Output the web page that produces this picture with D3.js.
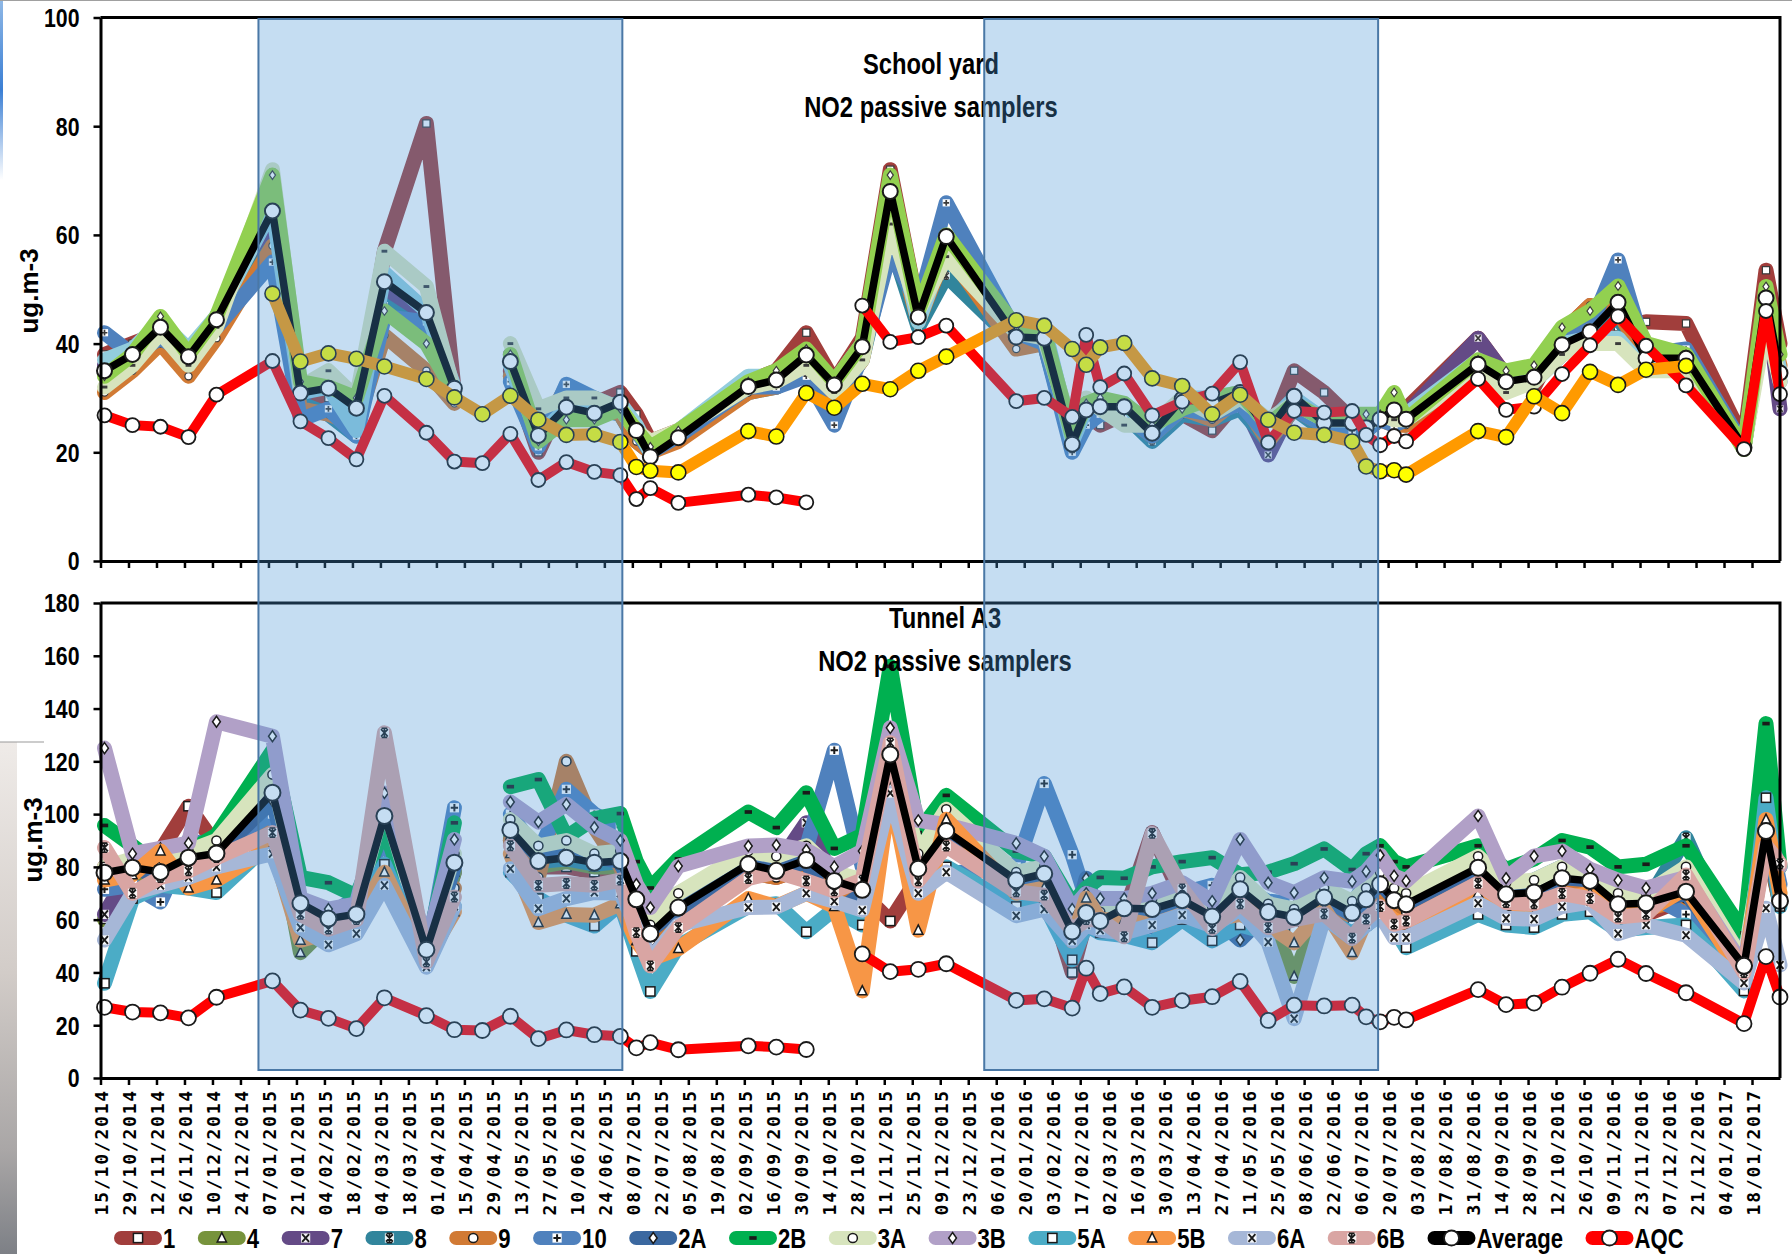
<!DOCTYPE html>
<html>
<head>
<meta charset="utf-8">
<title>NO2 passive samplers</title>
<script src="https://cdn.jsdelivr.net/npm/d3@7/dist/d3.min.js"></script>
<style>
  html, body { margin: 0; padding: 0; background: #ffffff; }
  svg { display: block; }
</style>
</head>
<body>
<svg id="chart" width="1792" height="1254"></svg>
<script>
// ---------------------------------------------------------------------------
// Sampling dates (one value per exposure period)
const sampleDates = [
  "2014-10-17","2014-10-31","2014-11-14","2014-11-28","2014-12-12","2015-01-09",
  "2015-01-23","2015-02-06","2015-02-20","2015-03-06","2015-03-27","2015-04-10",
  "2015-04-24","2015-05-08","2015-05-22","2015-06-05","2015-06-19","2015-07-02",
  "2015-07-10","2015-07-17","2015-07-31","2015-09-04","2015-09-18","2015-10-03",
  "2015-10-17","2015-10-31","2015-11-14","2015-11-28","2015-12-12","2016-01-16",
  "2016-01-30","2016-02-13","2016-02-20","2016-02-27","2016-03-10","2016-03-24",
  "2016-04-08","2016-04-23","2016-05-07","2016-05-21","2016-06-03","2016-06-18",
  "2016-07-02","2016-07-09","2016-07-16","2016-07-23","2016-07-29","2016-09-03",
  "2016-09-17","2016-10-01","2016-10-15","2016-10-29","2016-11-12","2016-11-26",
  "2016-12-16","2017-01-14","2017-01-25","2017-02-01"
];

// Axis tick labels (every two weeks)
const tickLabels = [
  "15/10/2014","29/10/2014","12/11/2014","26/11/2014","10/12/2014","24/12/2014",
  "07/01/2015","21/01/2015","04/02/2015","18/02/2015","04/03/2015","18/03/2015",
  "01/04/2015","15/04/2015","29/04/2015","13/05/2015","27/05/2015","10/06/2015",
  "24/06/2015","08/07/2015","22/07/2015","05/08/2015","19/08/2015","02/09/2015",
  "16/09/2015","30/09/2015","14/10/2015","28/10/2015","11/11/2015","25/11/2015",
  "09/12/2015","23/12/2015","06/01/2016","20/01/2016","03/02/2016","17/02/2016",
  "02/03/2016","16/03/2016","30/03/2016","13/04/2016","27/04/2016","11/05/2016",
  "25/05/2016","08/06/2016","22/06/2016","06/07/2016","20/07/2016","03/08/2016",
  "17/08/2016","31/08/2016","14/09/2016","28/09/2016","12/10/2016","26/10/2016",
  "09/11/2016","23/11/2016","07/12/2016","21/12/2016","04/01/2017","18/01/2017"
];
const axisStart = "2014-10-15";
const axisEnd = "2017-02-01";

// Heating seasons highlighted across both panels
const shadedPeriods = [["2015-01-02", "2015-07-03"], ["2015-12-31", "2016-07-15"]];

const yardTicks = [0, 20, 40, 60, 80, 100];
const tunnelTicks = [0, 20, 40, 60, 80, 100, 120, 140, 160, 180];

// ---------------------------------------------------------------------------
// AQC monitoring station (same series in both panels)
const aqc = [26.8,25,24.7,22.8,30.6,36.8,25.7,22.6,18.7,30.4,23.6,18.3,18,
  23.4,14.9,18.2,16.4,15.8,11.4,13.4,10.7,12.2,11.7,10.8,null,47,40.3,41.2,43.3,
  29.4,30,26.5,41.6,32,34.5,26.8,29.3,30.8,36.6,21.8,27.6,27.3,27.6,23.2,21.3,23,22,
  33.5,27.8,28.4,34.4,39.7,45,39.6,32.3,20.6,46,30.7];

// School yard samplers
const yardAverage = [35,38,43,37.6,44.4,64.4,30.9,31.8,28.1,51.4,45.7,31.8,null,
  36.7,23.1,28.3,27.2,29.2,24,19.2,22.7,32.1,33.3,37.9,32.4,39.4,68,44.9,59.7,
  41.2,41,21.5,27.8,28.4,28.4,23.5,29.8,29,31,24,30.3,25.4,25.4,24.5,26.1,27.8,26.1,
  36.2,33,33.8,39.8,42.2,47.6,37.3,37.3,20.9,48.4,34.6];
const yardReference = [null,null,null,null,null,49.2,36.7,38.2,37.2,35.8,33.5,30.1,27,
  30.4,26,23.2,23.3,21.9,17.3,16.6,16.3,23.9,22.9,30.9,28.2,32.6,31.6,35,37.6,
  44.3,43.3,39,36.1,39.3,40.1,33.6,32.2,27,30.6,26,23.6,23.2,22,17.4,16.5,16.7,15.9,
  23.9,22.8,30.3,27.2,34.8,32.4,35.2,35.9,null,null,null];
const yardMaroon = [38,40,42,36,45,60,30,30,26,57,80.5,31,null,
  35,20,31,29,31,27,22,24,33,35,42,33,41,72,46,58,
  40,40,24,27,25,27,24,27,24,30,23,35,31,26,26,26,28,28,
  41,34,32,42,47,43,44,43.7,22,53.5,40];
const yardPurple = [36,38,43,37,45,62,30,34,28,50,44,31,null,
  38,24,29,27,28,24,20,23,32,33,37,32,39,66,44,58,
  41,41,23,28,28,28,24,29,28,30,19.5,29,25,25,25,27,29,27,
  41,34,33,39,44,47,37,37,21,49,28];
const yardTeal = [35,37,42,36,43,58,29,27,23,47,42,30,null,
  34,22,27,28,27,22,20,23,31,32,35,30,37,59,43,52.5,
  40,40,21,26,27,27,22,27,26,28,22,28,24,25,24,26,26,25,
  35,32,33,38,41,45,36,36,21,47,34];
const yardOrange = [31,35,40,34,41,58,28,27,25,41.5,35,29,null,
  34,23,32,29,27,22,20,22,31,32,35,30,37,63,44,57,
  39,40,22,26,27,27,23,28,26,30,22,28,25,24,24,26,25,25,
  36,33,34,42,47,46,37,36,21,46,36];
const yardBlue = [42,38,41,38,43,55,26,28,23,45,44,31,null,
  33,21,32.5,30,28,24,20,23,32,32,34,25,38,57,47,65.9,
  42,40,20,25,27,27,23,28,27,29,23,28,25,24,24,26,25,26,
  35,32,34,40,43,55.4,38,39,21,46,33];
const yardSky = [37,39,44,39,45,65,31,32,24,53,46,32,null,
  36,23,28,28,29,25,20,24,34,34,37,33,40,66,44,58,
  42,43,22,28,29,29,24,30,30,31,25,30,26,26,25,27,28,27,
  37,34,35,40,41,41,35,36,21,47,35];
const yardPale = [32,36,42,36,43,72,32,35,30,57,50.5,31,null,
  40,28,30,30,28,24,22,24,32,33,36,31,37,62,46,56,
  42,41,24,30,28,25,25,30,27,30,26,29,26,26,25,27,26,26,
  35,31,33,38,40,40,35,35,21,44,33];
const yardGreen = [34,38,45,38,45,71,33,32,30,46,40,31,null,
  38,22,26,26,28,24,21,24,33,35,39,33,40,71,46,60,
  43,42,23,29,30,29,25,28,30,31,25,29,26,27,27,27,31,26,
  37,35,36,43,46,50.6,40,38,20.5,50.5,38];

// Tunnel A3 samplers
const tunnel1 = [80,78,86,103,88,98,63,60,64,98,46,78,null,
  90,80,80,78,80,65,50,62,78,76,80,72,70,59.5,76,90,
  72,75,40,60,58,62,93,68,60,70,60,58,66,60,66,70,65,64,
  76,68,68,72,70,58,62,68,40,90,66];
const tunnel4 = [60,78,76,82,84,104,47.5,58,60,96,44,78,null,
  92,80,82,80,80,66,53,63,80,77,81,73,70,120,78,92,
  73,76,54,61,58,63,63,66,60,70,62,38.5,67,61,66,72,66,64,
  78,68,69,74,73,64,65,69,41,92,66];
const tunnel7 = [62,80,80,84,86,108,66,61,63,100,49,82,null,
  95,83,84,82,83,68,55,65,82,80,96.7,75,72,123,80,94,
  75,78,56,63,60,65,65,68,62,72,63,62,69,63,68,74,68,66,
  80,70,71,76,75,66,67,71,43,94,68];
const tunnel8 = [76,79,78,83,84,100,66,60,62,98,48,81,null,
  93,82,83,81,82,67,54,64,81,78,82,74,71,122,79,93,
  75,77,55,62,59,64,64,67,61,71,63,61,68,63,68,73,67,66,
  80,70,70,76,75,66,66,91,42,94,67];
const tunnel9 = [76,78,80,82,83,100,62,58,60,95,47,72,null,
  90,76,120,95,80,64,52,62,78,76,80,72,68,115,76,92,
  72,74,54,72,58,62,62,65,60,70,60,55,66,58,66,72,66,63,
  78,68,69,74,73,63,64,68,40,92,68];
const tunnel10 = [71.5,73,66.7,90,88,100,68,62,68,92,45,102.4,null,
  100,85,109.4,100,95,76,60,70,84,82,87,124.2,80,110,82,77.4,
  80,111.6,84.6,68,62,66,67,70,73,72,67,66,72,65,75,80,73,68,
  82,72,75,80,78,72,70,62,40,98,73.4];
const tunnel2A = [78,80,76,84,85,105,66,60,62,98,48,80,null,
  95,84,86,84,82,68,56,64,80,78,82,62,70,120,80,92,
  74,77,56,75.7,60,64,57.3,66,62,52.3,63,62,68,62,68,74,68,66,
  80,70,70,76,75,66,66,70,42,94,67];
const tunnel2B = [95.7,88,80,86,92,124,76,74,69,95,47,96.7,null,
  110.4,113.1,91.3,98.3,100.2,82,72,83,100.8,94.9,108.1,87,92,156,93,107.1,
  86,84,66,72,76,75.7,80,82,83.5,77,78,81.2,86.8,79,85,88,82,80,
  88,79,83,90,87.5,80,81,88,55,134.3,80];
const tunnel3A = [80,83,80,86,90,115,68,62,65,105,50,85,null,
  98,88,90,85,86,72,58,70,86,84,88,78,75,125,85,101.8,
  78,80,58,66,63,68,68,72,65,76,66,64,72,67,72,78,72,70,
  84,74,75,80,78,70,70,80,44,96,70];
const tunnel3B = [125,85,87,89,135,129.5,68,64,66,108,50,90.4,null,
  104.6,97,103.7,95,90,73.4,64.6,80.3,87.9,88.3,86.4,80.1,86,132.7,97.6,96,
  88.9,84,64,70,68,68,70,74,67,90.4,74,70.2,75.9,74.5,78.3,84.4,76.6,74.7,
  99.3,75.7,84.1,86,79.1,74.9,72,76,42,92,80];
const tunnel5A = [35.9,68,73,72,70.3,90,55,55,60,81,43,65,null,
  78,68,61.7,57.6,66,48,32.8,50,65,66,55.4,64,58,110,74,80,
  65,66,44.8,58,55,54,51.3,60,52,58,55,56,60,55,58,62,57,49.4,
  62,58,57,62,63,56,57,58,33,106.2,65];
const tunnel5B = [75,77,86,72,75,88,52.2,55,60,78,45,63,null,
  85,58.9,62,61.7,66,52,45,49,68,65,70,65,33,110,56,98,
  70,72,52,68.2,60,60,58,62,60,62,58,51.2,64,47.5,60,64,60,58,
  70,65,62,68,70,64,63,72,38,98,70];
const tunnel6A = [52.3,70,73,76,80,85,57,50.5,54.7,73,42,65,null,
  79.3,64.2,68,70.3,70,58,45,58,64.6,64.8,70,67,63.6,108,70,78,
  61.5,64,52,58,56,55,58,61.8,57.6,64,51.5,22.5,61,53,58,62,53.2,53.2,
  66.2,60.5,60.2,65,66.7,54.7,58,54.1,36,64.3,42.8];
const tunnel6B = [87.3,70,76,78.5,83.5,93,62,56.4,60,130.8,44,68.6,null,
  88,73,73.7,73,75,55.1,42.5,57,75.6,78.1,74.7,70.9,75,127,74.7,87.9,
  70.6,69.3,56,60,60,53.5,92.7,71.6,56.7,66,57,60,62.2,53,60.2,65,58.3,59.5,
  73.8,66.5,66,69.9,68,61,62,76.9,40,88,81.2];
const tunnelAverage = [77.8,79.7,78.1,83.5,85.1,108.1,66.2,60.4,62.1,99.3,48.6,81.6,null,
  94,82.2,83.5,81.6,82.2,67.7,54.7,64.6,81,78.5,82.6,74.7,71.3,122.6,79.3,93.6,
  74.9,77.4,55.5,62.5,59.5,64.3,64,67.4,61.2,71.5,62.9,61,68.4,62.6,67.7,73.4,67.4,65.8,
  79.7,69.6,70.3,75.7,74.7,65.8,66.2,70.6,42.5,93.6,67.1];

// Legend / series styling
const samplerNames   = ["1","4","7","8","9","10","2A","2B","3A","3B","5A","5B","6A","6B"];
const samplerColors  = ["#a13e3c","#77933c","#644a86","#31859c","#d17a34","#4f81bd","#3b68a0",
                        "#00b050","#d7e4bd","#b1a0c7","#4bacc6","#f79646","#a6b7d7","#d9a5a3"];
const samplerMarkers = ["square","triangle","cross","star","circle","plus","diamond",
                        "dash","circle","diamond","square","triangle","cross","star"];
const tunnelSeries = [tunnel1,tunnel4,tunnel7,tunnel8,tunnel9,tunnel10,tunnel2A,
                      tunnel2B,tunnel3A,tunnel3B,tunnel5A,tunnel5B,tunnel6A,tunnel6B];

const yardSeries  = [yardMaroon, yardPurple, yardTeal, yardOrange, yardBlue, yardSky, yardPale, yardGreen];
const yardColors  = ["#a13e3c","#644a86","#31859c","#d17a34","#4f81bd","#93cddd","#d7e4bd","#92d050"];
const yardMarkers = ["square","cross","star","circle","plus","none","dash","diamond"];

// ---------------------------------------------------------------------------
// Condensed bold text: a regular sans face squeezed horizontally
const SANS = "'Liberation Sans', Arial, sans-serif";
const SQUEEZE = 0.82;
function narrowText(parent, tx, ty, str, size, anchor, dy) {
  return parent.append("text")
    .attr("transform", `translate(${tx},${ty}) scale(${SQUEEZE},1)`)
    .attr("text-anchor", anchor || "start").attr("dy", dy || 0)
    .attr("font-family", SANS).attr("font-weight", "bold")
    .attr("font-size", size).attr("fill", "#000").text(str);
}

const parseISO = d3.utcParse("%Y-%m-%d");
const parseDMY = d3.utcParse("%d/%m/%Y");
const dates = sampleDates.map(parseISO);
const tickDates = tickLabels.map(parseDMY);

const svg = d3.select("#chart");
const left = 100.5, right = 1780;

const x = d3.scaleUtc().domain([parseISO(axisStart), parseISO(axisEnd)]).range([left, right]);
const yTop = d3.scaleLinear().domain([0, 100]).range([561, 17.5]);
const yBot = d3.scaleLinear().domain([0, 180]).range([1078, 603]);

// soft decorations on the page edge
const defs = svg.append("defs");
const g1 = defs.append("linearGradient").attr("id", "edgeGrey").attr("x1",0).attr("y1",0).attr("x2",0).attr("y2",1);
g1.append("stop").attr("offset","0").attr("stop-color","#efebe8");
g1.append("stop").attr("offset","0.45").attr("stop-color","#d2ccc8");
g1.append("stop").attr("offset","0.8").attr("stop-color","#a9a6a6");
g1.append("stop").attr("offset","1").attr("stop-color","#7d8086");
const g2 = defs.append("linearGradient").attr("id", "edgeBlue").attr("x1",0).attr("y1",0).attr("x2",0).attr("y2",1);
g2.append("stop").attr("offset","0").attr("stop-color","#8fb8e6");
g2.append("stop").attr("offset","0.5").attr("stop-color","#3b7fd4");
g2.append("stop").attr("offset","1").attr("stop-color","#ffffff");
svg.append("rect").attr("x",0).attr("y",742).attr("width",17).attr("height",512).attr("fill","url(#edgeGrey)");
svg.append("line").attr("x1",0).attr("x2",44).attr("y1",742).attr("y2",742).attr("stroke","#9a9a9a").attr("stroke-width",1.2);
svg.append("rect").attr("x",0).attr("y",0).attr("width",3).attr("height",180).attr("fill","url(#edgeBlue)");
svg.append("line").attr("x1",0).attr("x2",1792).attr("y1",0.5).attr("y2",0.5).attr("stroke","#a0a0a0").attr("stroke-width",1);

// ---------------------------------------------------------------------------
function drawMarker(g, type, cx, cy, r, fill, stroke, sw) {
  if (type === "none") return;
  const k = r;
  if (type === "circle") {
    g.append("circle").attr("cx",cx).attr("cy",cy).attr("r",k)
      .attr("fill",fill).attr("stroke",stroke).attr("stroke-width",sw);
  } else if (type === "square") {
    g.append("rect").attr("x",cx-k).attr("y",cy-k).attr("width",2*k).attr("height",2*k)
      .attr("fill",fill).attr("stroke",stroke).attr("stroke-width",sw);
  } else if (type === "triangle") {
    g.append("path").attr("d",`M${cx},${cy-k*1.15}L${cx+k},${cy+k*0.85}L${cx-k},${cy+k*0.85}Z`)
      .attr("fill",fill).attr("stroke",stroke).attr("stroke-width",sw);
  } else if (type === "diamond") {
    g.append("path").attr("d",`M${cx},${cy-k*1.2}L${cx+k*0.85},${cy}L${cx},${cy+k*1.2}L${cx-k*0.85},${cy}Z`)
      .attr("fill",fill).attr("stroke",stroke).attr("stroke-width",sw);
  } else if (type === "cross") {
    g.append("rect").attr("x",cx-k).attr("y",cy-k).attr("width",2*k).attr("height",2*k).attr("fill",fill).attr("opacity",0.9);
    g.append("path").attr("d",`M${cx-k*0.75},${cy-k*0.85}L${cx+k*0.75},${cy+k*0.85}M${cx+k*0.75},${cy-k*0.85}L${cx-k*0.75},${cy+k*0.85}`)
      .attr("stroke",stroke).attr("stroke-width",sw+0.4).attr("fill","none");
  } else if (type === "star") {
    g.append("rect").attr("x",cx-k).attr("y",cy-k).attr("width",2*k).attr("height",2*k).attr("fill",fill).attr("opacity",0.9);
    g.append("path").attr("d",`M${cx-k*0.75},${cy-k*0.8}L${cx+k*0.75},${cy+k*0.8}M${cx+k*0.75},${cy-k*0.8}L${cx-k*0.75},${cy+k*0.8}M${cx},${cy-k}L${cx},${cy+k}M${cx-k*0.6},${cy-k}L${cx+k*0.6},${cy-k}M${cx-k*0.6},${cy+k}L${cx+k*0.6},${cy+k}`)
      .attr("stroke",stroke).attr("stroke-width",sw+0.2).attr("fill","none");
  } else if (type === "plus") {
    g.append("rect").attr("x",cx-k).attr("y",cy-k).attr("width",2*k).attr("height",2*k).attr("fill",fill);
    g.append("path").attr("d",`M${cx-k*0.8},${cy}L${cx+k*0.8},${cy}M${cx},${cy-k*0.8}L${cx},${cy+k*0.8}`)
      .attr("stroke",stroke).attr("stroke-width",sw+0.5).attr("fill","none");
  } else if (type === "dash") {
    g.append("rect").attr("x",cx-k*0.8).attr("y",cy-k*0.4).attr("width",k*1.6).attr("height",k*0.8)
      .attr("fill",stroke);
  }
}

function drawSeries(g, y, vals, color, width, marker, mr, mFill, mStroke, mSw) {
  const pts = dates.map((d, i) => ({ d, v: vals[i] }));
  const line = d3.line().defined(p => p.v != null).x(p => x(p.d)).y(p => y(p.v));
  g.append("path").attr("d", line(pts)).attr("fill", "none")
    .attr("stroke", color).attr("stroke-width", width)
    .attr("stroke-linejoin", "round").attr("stroke-linecap", "round");
  const mg = g.append("g");
  pts.filter(p => p.v != null).forEach(p => drawMarker(mg, marker, x(p.d), y(p.v), mr, mFill, mStroke, mSw));
}

// ---------------------------------------------------------------------------
// Panel frames and axes
function styleAxis(sel) {
  sel.select(".domain").attr("stroke", "#000").attr("stroke-width", 3);
  sel.selectAll(".tick line").attr("stroke", "#000").attr("stroke-width", 2.5);
}

function panelAxes(y, ticks, showDates) {
  const top = y.range()[1], bottom = y.range()[0];
  svg.append("path").attr("d", `M${left},${top}H${right}V${bottom}`)
    .attr("fill", "none").attr("stroke", "#000").attr("stroke-width", 3);

  const ya = svg.append("g").attr("transform", `translate(${left},0)`)
    .call(d3.axisLeft(y).tickValues(ticks).tickSize(7).tickSizeOuter(0).tickFormat(""));
  styleAxis(ya);
  ticks.forEach(v => narrowText(svg, left - 21, y(v), String(v), 26, "end", "0.36em"));

  const xa = svg.append("g").attr("transform", `translate(0,${bottom})`)
    .call(d3.axisBottom(x).tickValues(tickDates).tickSize(7).tickSizeOuter(0)
      .tickFormat((d, i) => showDates ? tickLabels[i] : ""));
  styleAxis(xa);
  if (showDates) {
    xa.selectAll(".tick text")
      .attr("transform", "rotate(-90)")
      .attr("x", -11).attr("y", 1).attr("dy", "0.36em")
      .style("text-anchor", "end")
      .attr("font-family", "'DejaVu Sans Mono', monospace").attr("font-weight", "bold")
      .attr("font-size", 18).attr("letter-spacing", "1.8px").attr("fill", "#000");
  }
}

// ---------------------------------------------------------------------------
// School yard panel
const topG = svg.append("g");
yardSeries.forEach((vals, i) =>
  drawSeries(topG, yTop, vals, yardColors[i], 15, yardMarkers[i], 3.6, "#ffffff", "#3a3a3a", 1.2));
drawSeries(topG, yTop, yardAverage, "#000000", 7.5, "circle", 7.5, "#ffffff", "#1a1a1a", 2);
drawSeries(topG, yTop, aqc, "#ff0000", 10, "circle", 7, "#ffffff", "#1a1a1a", 1.8);
drawSeries(topG, yTop, yardReference, "#ff9a00", 12, "circle", 7.5, "#ffff00", "#1a1a1a", 1.6);

// Tunnel A3 panel
const botG = svg.append("g");
tunnelSeries.forEach((vals, i) =>
  drawSeries(botG, yBot, vals, samplerColors[i], 15, samplerMarkers[i], 4.6, "#ffffff", "#1a1a1a", 1.5));
drawSeries(botG, yBot, tunnelAverage, "#000000", 7.5, "circle", 8, "#ffffff", "#1a1a1a", 2);
drawSeries(botG, yBot, aqc, "#ff0000", 10, "circle", 7.5, "#ffffff", "#1a1a1a", 1.8);

panelAxes(yTop, yardTicks, false);
panelAxes(yBot, tunnelTicks, true);

// Titles
narrowText(svg, 931, 74, "School yard", 29, "middle");
narrowText(svg, 931, 117, "NO2 passive samplers", 29, "middle");
narrowText(svg, 945, 628, "Tunnel A3", 29, "middle");
narrowText(svg, 945, 671, "NO2 passive samplers", 29, "middle");

// Y axis titles
[[29, 291], [33, 840]].forEach(([tx, ty]) =>
  svg.append("text").attr("transform", `translate(${tx},${ty}) rotate(-90)`)
    .attr("text-anchor", "middle").attr("dy", "0.35em")
    .attr("font-family", SANS).attr("font-weight", "bold")
    .attr("font-size", 26).attr("fill", "#000").text("ug.m-3"));

// Shaded periods (translucent overlay spanning both panels)
shadedPeriods.forEach(([a, b]) => {
  const x0 = x(parseISO(a)), x1 = x(parseISO(b));
  svg.append("rect").attr("x", x0).attr("y", 19).attr("width", x1 - x0).attr("height", 1051)
    .attr("fill", "rgb(75,150,215)").attr("fill-opacity", 0.32)
    .attr("stroke", "#4a78a6").attr("stroke-width", 2);
});

// ---------------------------------------------------------------------------
// Legend
const legendNames = samplerNames.concat(["Average", "AQC"]);
const legendColors = samplerColors.concat(["#000000", "#ff0000"]);
const legendMarkers = samplerMarkers.concat(["circle", "circle"]);
const lg = svg.append("g");
let lx = 114;
const ly = 1238;
legendNames.forEach((name, i) => {
  const special = i >= samplerNames.length;
  lg.append("line").attr("x1", lx + 7).attr("x2", lx + 41).attr("y1", ly).attr("y2", ly)
    .attr("stroke", legendColors[i]).attr("stroke-width", 14).attr("stroke-linecap", "round");
  if (special) drawMarker(lg, "circle", lx + 24, ly, 7.5, "#ffffff", "#1a1a1a", 1.8);
  else drawMarker(lg, legendMarkers[i], lx + 24, ly, 4.6, "#ffffff", "#1a1a1a", 1.5);
  const t = narrowText(lg, lx + 49, ly, name, 27, "start", "0.36em");
  lx += 49 + t.node().getComputedTextLength() * SQUEEZE + 22.5;
});
</script>
</body>
</html>
